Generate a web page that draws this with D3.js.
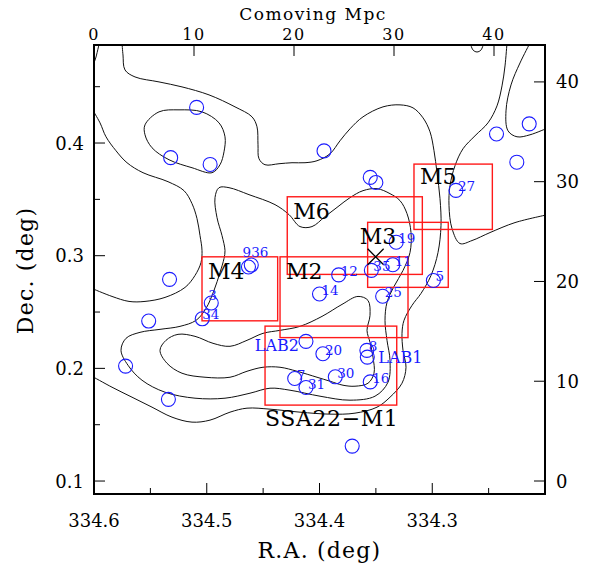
<!DOCTYPE html>
<html>
<head>
<meta charset="utf-8">
<script src="https://cdn.jsdelivr.net/npm/d3@7"></script>
<style>
  body { margin: 0; background: #fff; }
  text { font-family: "DejaVu Serif", serif; }
</style>
</head>
<body>
<script>
// galaxies (R.A., Dec. in degrees) and their catalogue labels
const galRA  = [334.509, 334.532, 334.497, 334.396, 334.214, 334.243, 334.225, 334.355, 334.350,
                334.279, 334.332, 334.354, 334.335, 334.383, 334.400, 334.344, 334.299, 334.463,
                334.4605, 334.496, 334.504, 334.533, 334.5515, 334.572, 334.534, 334.412, 334.397,
                334.358, 334.3576, 334.422, 334.412, 334.386, 334.355, 334.371];
const galDec = [0.4316, 0.387, 0.381, 0.393, 0.417, 0.408, 0.383, 0.3695, 0.365,
                0.358, 0.312, 0.287, 0.292, 0.283, 0.266, 0.264, 0.278, 0.290,
                0.2917, 0.258, 0.244, 0.279, 0.242, 0.202, 0.1725, 0.224, 0.213,
                0.216, 0.210, 0.191, 0.183, 0.1925, 0.188, 0.131];
const galLabel = ['', '', '', '', '', '', '', '', '',
                  '27', '19', '35', '11', '12', '14', '25', '5', '9',
                  '36', '3', '34', '', '', '', '', 'LAB2', '20',
                  '8', 'LAB1', '7', '31', '30', '16', ''];

// observed fields: name, RA east/west edge, Dec north/south edge
const fieldName = ['M4', 'M2', 'M6', 'M3', 'M5', 'SSA22\u2212M1'];
const fieldRA1  = [334.5042, 334.4350, 334.4286, 334.3573, 334.3162, 334.4483];
const fieldRA2  = [334.4371, 334.3215, 334.3088, 334.2858, 334.2467, 334.3315];
const fieldDec1 = [0.2990, 0.2990, 0.3523, 0.3296, 0.3813, 0.2375];
const fieldDec2 = [0.2422, 0.2273, 0.2834, 0.2719, 0.3233, 0.1674];

// cross marker
const crossRA = 334.3502, crossDec = 0.2990;

// density contours, traced in comoving Mpc (x, y)
const contourOpen = [
  [[0, 41.9], [0.2, 42.5], [0.6, 44.2]],
  [[37.6, 44.0], [37.9, 43.2], [38.3, 43.0], [38.7, 43.2], [39.0, 44.0]],
  // outer level, upper-left sweep down the east side to the west edge
  [[2.8, 43.9], [2.9, 42.7], [3.1, 41.2], [4.1, 40.5], [6.5, 40.0], [8.8, 39.5], [11.5, 38.7],
   [14.1, 37.5], [15.8, 36.5], [16.3, 35.5], [16.4, 33.7], [16.5, 32.3], [17.1, 31.7], [18.5, 31.8],
   [19.8, 31.9], [21.1, 31.9], [22.3, 32.1], [23.6, 32.8], [24.6, 34.1], [25.6, 35.3], [26.9, 36.5],
   [28.9, 37.5], [30.6, 37.7], [31.9, 37.4], [32.9, 36.4], [33.6, 35.0], [34.0, 33.1], [34.3, 30.9],
   [34.6, 28.3], [34.7, 25.6], [34.4, 22.9], [33.7, 20.6], [32.7, 18.8], [31.8, 17.6], [31.0, 16.1],
   [30.8, 14.8], [30.9, 13.1], [31.2, 11.4], [30.8, 9.8], [29.6, 8.4], [28.3, 7.4], [26.1, 6.8],
   [23.6, 6.7], [20.6, 6.9], [17.6, 7.2], [15.3, 7.3], [13.6, 6.9], [11.6, 6.1], [9.8, 5.9],
   [7.8, 6.4], [5.8, 7.4], [3.8, 8.4], [1.8, 9.4], [-0.2, 10.5]],
  [[41.3, 43.9], [41.1, 41.6], [40.8, 39.6], [40.3, 37.6], [39.4, 35.9], [38.1, 34.6], [36.9, 33.3],
   [36.1, 31.6], [35.6, 29.6], [35.5, 27.6], [35.8, 25.3], [36.6, 23.8], [37.8, 24.1], [39.6, 24.9],
   [42.1, 25.9], [45.4, 26.7]],
  [[43.6, 43.9], [42.6, 41.9], [41.7, 39.7], [41.2, 37.1], [41.4, 35.1], [42.3, 34.5], [43.6, 34.7], [45.4, 35.4]],
  [[-0.2, 37.3], [0.6, 35.9], [1.2, 34.5], [2.2, 33.1], [3.3, 31.9], [4.9, 30.9], [7.4, 30.0],
   [9.0, 29.1], [9.8, 27.8], [10.3, 26.3], [10.6, 24.6], [10.8, 23.1], [10.7, 21.9], [10.1, 20.6],
   [9.1, 19.4], [7.1, 18.4], [5.1, 18.0], [3.5, 18.0], [1.8, 18.5], [-0.2, 19.3]]
];
const contourClosed = [
  [[5.1, 35.7], [6.5, 37.0], [8.5, 37.2], [10.8, 37.0], [12.5, 35.9], [13.1, 34.5], [13.0, 33.0],
   [12.6, 31.7], [11.8, 30.9], [9.8, 31.4], [7.5, 32.2], [5.8, 33.4], [5.1, 34.7]],
  [[13.1, 23.1], [12.8, 24.6], [12.3, 26.4], [12.1, 28.4], [12.5, 29.4], [13.5, 29.4], [15.5, 28.7],
   [18.1, 27.7], [19.5, 26.7], [20.6, 25.5], [21.8, 25.5], [23.1, 26.5], [24.4, 27.5], [25.6, 28.4],
   [26.9, 29.1], [28.3, 29.3], [29.6, 28.8], [30.6, 28.1], [31.3, 26.8], [31.7, 24.9], [31.6, 22.9],
   [30.9, 21.1], [30.0, 19.5], [29.3, 17.9], [29.1, 16.1], [29.3, 14.1], [29.6, 12.1], [29.4, 9.9],
   [28.1, 8.5], [25.6, 8.1], [22.6, 8.5], [19.6, 9.1], [17.6, 9.3], [15.6, 8.8], [13.1, 8.3],
   [10.1, 8.3], [7.1, 8.9], [4.8, 10.1], [3.4, 11.6], [2.7, 13.1], [3.2, 14.3], [4.6, 14.9],
   [6.6, 15.2], [8.6, 15.5], [10.2, 16.1], [11.2, 17.3], [12.0, 19.1], [12.6, 20.9], [13.0, 22.3]],
  [[6.6, 13.1], [7.2, 14.1], [8.4, 14.7], [10.1, 14.5], [11.9, 13.8], [13.6, 13.5], [15.3, 14.1],
   [16.9, 14.8], [18.6, 15.1], [20.6, 15.5], [22.8, 16.5], [24.8, 17.7], [26.4, 18.5], [27.4, 18.1],
   [27.6, 16.6], [27.3, 15.1], [27.6, 13.9], [27.9, 12.4], [28.0, 10.8], [27.4, 9.8], [26.1, 9.5],
   [24.9, 9.6], [23.6, 10.0], [22.3, 10.4], [20.3, 11.0], [18.6, 11.4], [16.9, 11.4], [15.3, 11.0],
   [13.6, 10.4], [11.1, 10.4], [8.8, 10.8], [7.3, 11.8]]
];

const raTicks = [334.6, 334.5, 334.4, 334.3];
const decTicks = [0.1, 0.2, 0.3, 0.4];
const mpcTopTicks = [0, 10, 20, 30, 40];
const mpcRightTicks = [0, 10, 20, 30, 40];

const width = 604;
const height = 568;
const fL = 94, fR = 545, fT = 45, fB = 494;

const x = d3.scaleLinear().domain([334.6, 334.2]).range([fL, fR]);
const y = d3.scaleLinear().domain([0.0885, 0.487]).range([fB, fT]);
const xm = d3.scaleLinear().domain([0, 45.1]).range([fL, fR]);
const ym = d3.scaleLinear().domain([0, 43.7]).range([481, fT]);

const svg = d3.select('body').append('svg')
  .attr('width', width)
  .attr('height', height);

svg.append('defs').append('clipPath').attr('id', 'frame')
  .append('rect')
  .attr('x', fL).attr('y', fT)
  .attr('width', fR - fL).attr('height', fB - fT);

const plot = svg.append('g').attr('clip-path', 'url(#frame)');

// contours
const line = d3.line().x(d => xm(d[0])).y(d => ym(d[1])).curve(d3.curveCatmullRom);
const loop = d3.line().x(d => xm(d[0])).y(d => ym(d[1])).curve(d3.curveCatmullRomClosed);

plot.selectAll('.copen').data(contourOpen).enter()
  .append('path')
  .attr('d', line)
  .attr('fill', 'none').attr('stroke', '#111').attr('stroke-width', 1);

plot.selectAll('.cclosed').data(contourClosed).enter()
  .append('path')
  .attr('d', loop)
  .attr('fill', 'none').attr('stroke', '#111').attr('stroke-width', 1);

// fields
const fields = fieldName.map((n, i) => ({
  name: n, ra1: fieldRA1[i], ra2: fieldRA2[i], dec1: fieldDec1[i], dec2: fieldDec2[i]
}));

plot.selectAll('.field').data(fields).enter()
  .append('rect')
  .attr('x', d => x(d.ra1))
  .attr('y', d => y(d.dec1))
  .attr('width', d => x(d.ra2) - x(d.ra1))
  .attr('height', d => y(d.dec2) - y(d.dec1))
  .attr('fill', 'none').attr('stroke', '#ff1a1a').attr('stroke-width', 1.4);

svg.selectAll('.fname').data(fields).enter()
  .append('text')
  .attr('x', d => d.name === 'M3' ? x(d.ra1) - 8 : x(d.ra1) + (d.name.length > 2 ? 0 : 6))
  .attr('y', d => d.name.length > 2 ? y(d.dec2) + 21 : y(d.dec1) + (d.name === 'M5' ? 20 : 22))
  .attr('font-size', 22)
  .attr('letter-spacing', d => d.name.length > 2 ? 0.6 : 0)
  .attr('fill', '#000')
  .text(d => d.name);

// cross
const cx0 = x(crossRA), cy0 = y(crossDec);
svg.append('path')
  .attr('d', `M${cx0 - 8},${cy0 - 8}L${cx0 + 8},${cy0 + 8}M${cx0 - 8},${cy0 + 8}L${cx0 + 8},${cy0 - 8}`)
  .attr('stroke', '#000').attr('stroke-width', 1.3);

// galaxies
const gals = galRA.map((r, i) => ({ ra: r, dec: galDec[i], label: galLabel[i] }));

plot.selectAll('.gal').data(gals).enter()
  .append('circle')
  .attr('cx', d => x(d.ra))
  .attr('cy', d => y(d.dec))
  .attr('r', 7)
  .attr('fill', 'none').attr('stroke', '#1a1aff').attr('stroke-width', 1.1);

const labelOffset = {
  'LAB2': [-7, 10, 'end'], 'LAB1': [11, 6, 'start'],
  '9': [-6, -10, 'start'], '36': [0, -8, 'start'], '3': [-3, -3, 'start'], '34': [0, 0, 'start']
};

svg.selectAll('.glab').data(gals.filter(d => d.label)).enter()
  .append('text')
  .attr('x', d => x(d.ra) + (labelOffset[d.label] || [2])[0])
  .attr('y', d => y(d.dec) + (labelOffset[d.label] || [0, 1])[1])
  .attr('text-anchor', d => (labelOffset[d.label] || [0, 0, 'start'])[2])
  .attr('font-family', d => d.label.startsWith('LAB') ? '"DejaVu Serif", serif' : '"DejaVu Sans", sans-serif')
  .attr('font-size', d => d.label.startsWith('LAB') ? 16 : 13.5)
  .attr('fill', '#1a1aff')
  .text(d => d.label);

// frame
svg.append('rect')
  .attr('x', fL).attr('y', fT)
  .attr('width', fR - fL).attr('height', fB - fT)
  .attr('fill', 'none').attr('stroke', '#000').attr('stroke-width', 2);

// ticks (inward)
const ticks = svg.append('g').attr('stroke', '#000').attr('stroke-width', 1);
const raMinor = d3.range(334.25, 334.6, 0.1);
const decMinor = d3.range(0.15, 0.49, 0.1);

raTicks.forEach(t => ticks.append('line').attr('x1', x(t)).attr('x2', x(t)).attr('y1', fB).attr('y2', fB - 11));
raMinor.forEach(t => ticks.append('line').attr('x1', x(t)).attr('x2', x(t)).attr('y1', fB).attr('y2', fB - 6));
decTicks.forEach(t => ticks.append('line').attr('x1', fL).attr('x2', fL + 11).attr('y1', y(t)).attr('y2', y(t)));
decMinor.forEach(t => ticks.append('line').attr('x1', fL).attr('x2', fL + 6).attr('y1', y(t)).attr('y2', y(t)));
mpcTopTicks.forEach(t => ticks.append('line').attr('x1', xm(t)).attr('x2', xm(t)).attr('y1', fT).attr('y2', fT + 11));
mpcRightTicks.forEach(t => ticks.append('line').attr('x1', fR).attr('x2', fR - 11).attr('y1', ym(t)).attr('y2', ym(t)));

// tick labels
svg.selectAll('.rat').data(raTicks).enter().append('text')
  .attr('x', d => x(d)).attr('y', 527)
  .attr('text-anchor', 'middle').attr('font-size', 18)
  .text(d => d3.format('.1f')(d));

svg.selectAll('.dect').data(decTicks).enter().append('text')
  .attr('x', 84).attr('y', d => y(d) + 6.5)
  .attr('text-anchor', 'end').attr('font-size', 18)
  .text(d => d3.format('.1f')(d));

svg.selectAll('.topt').data(mpcTopTicks).enter().append('text')
  .attr('x', d => xm(d)).attr('y', 40)
  .attr('text-anchor', 'middle').attr('font-size', 16).attr('letter-spacing', 1.5)
  .text(d => d);

svg.selectAll('.rt').data(mpcRightTicks).enter().append('text')
  .attr('x', 556).attr('y', d => ym(d) + 6.5)
  .attr('text-anchor', 'start').attr('font-size', 18)
  .text(d => d);

// axis titles
svg.append('text')
  .attr('x', (fL + fR) / 2).attr('y', 558)
  .attr('text-anchor', 'middle').attr('font-size', 22).attr('letter-spacing', 1.2)
  .text('R.A. (deg)');

svg.append('text')
  .attr('transform', `translate(33,${(fT + fB) / 2 + 1}) rotate(-90)`)
  .attr('text-anchor', 'middle').attr('font-size', 22).attr('letter-spacing', 1.2)
  .text('Dec. (deg)');

svg.append('text')
  .attr('x', 313).attr('y', 20)
  .attr('text-anchor', 'middle').attr('font-size', 17).attr('letter-spacing', 1.5)
  .text('Comoving Mpc');
</script>
</body>
</html>
